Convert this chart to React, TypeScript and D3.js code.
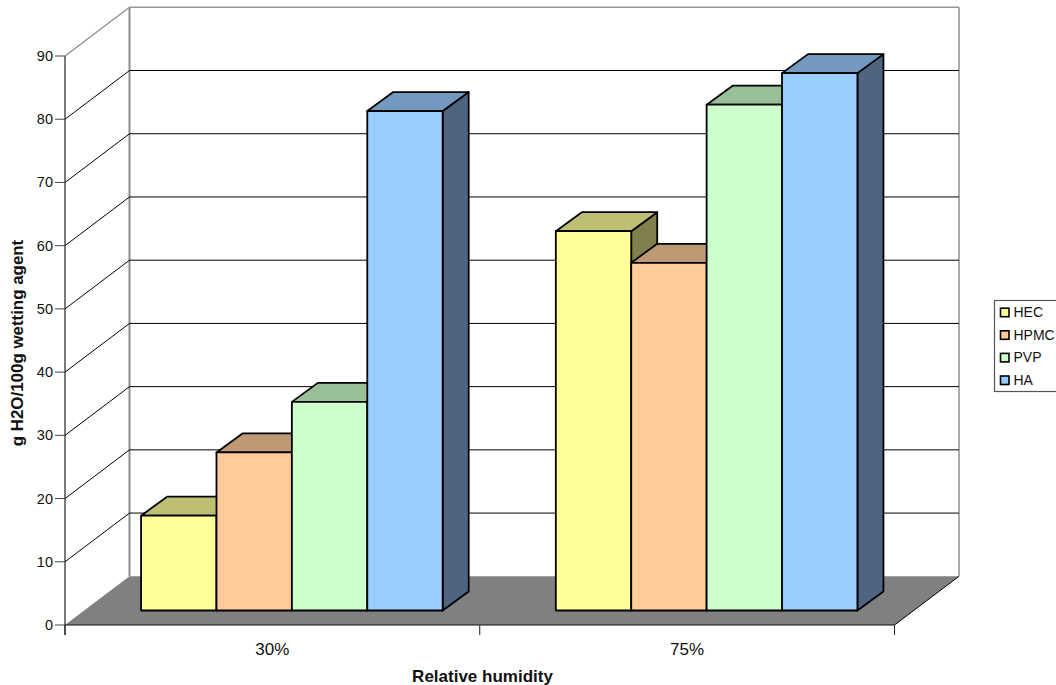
import React from "react";
import * as d3 from "d3";

const categories = ["30%", "75%"];
const seriesNames = ["HEC", "HPMC", "PVP", "HA"];
const hec = [15, 60];
const hpmc = [25, 55];
const pvp = [33, 80];
const ha = [79, 85];
const seriesValues = [hec, hpmc, pvp, ha];
const frontColors = ["#ffff99", "#ffcc99", "#ccffcc", "#99ccff"];
const topColors = ["#bfbf73", "#bf9973", "#99bf99", "#7399bf"];
const sideColors = ["#80804d", "#80664d", "#66804d", "#4f6480"];
const yTicks = d3.range(0, 100, 10);

const W = 1056, H = 685;
const x0 = 65, x1 = 894.5, yB = 625, yT = 56;
const DX = 64.5, DY = -48.7;
const barDX = 26, barDY = -19;

const y = d3.scaleLinear().domain([0, 90]).range([yB, yT]);
const xBand = d3.scaleBand<string>().domain(categories).range([x0, x1]);
const font = "'Liberation Sans', Arial, sans-serif";
const pts = (p: number[][]) => p.map((a) => a.join(",")).join(" ");

export default function App() {
  const barW = 75.4;
  const groupPad = (xBand.bandwidth() - 4 * barW) / 2;
  const barShiftY = -14.5;
  const barShiftX = 19.5;
  return (
    <svg width={W} height={H} style={{ position: "absolute", left: 0, top: 0, background: "#fff" }} fontFamily={font}>
      <polygon points={pts([[x0, yB], [x0 + DX, yB + DY], [x1 + DX, yB + DY], [x1, yB]])} fill="#808080" />
      <line x1={x0 + DX} x2={x1 + DX} y1={yT + DY} y2={yT + DY} stroke="#969696" strokeWidth={1.6} />
      <line x1={x0 + DX} x2={x0 + DX} y1={yT + DY} y2={yB + DY} stroke="#8c8c8c" strokeWidth={2} />
      <line x1={x1 + DX} x2={x1 + DX} y1={yT + DY} y2={yB + DY} stroke="#969696" strokeWidth={1.6} />
      <line x1={x0} x2={x0 + DX} y1={yT} y2={yT + DY} stroke="#8c8c8c" strokeWidth={1.2} />
      {yTicks.slice(1, -1).map((t) => (
        <g key={t} stroke="#000" strokeWidth={1} fill="none">
          <line x1={x0} x2={x0 + DX} y1={y(t)} y2={y(t) + DY} />
          <line x1={x0 + DX} x2={x1 + DX} y1={y(t) + DY} y2={y(t) + DY} />
        </g>
      ))}
      <line x1={x1} x2={x1 + DX} y1={yB} y2={yB + DY} stroke="#000" strokeWidth={1} />
      <line x1={x0} x2={x0} y1={yT} y2={yB + 10} stroke="#222" strokeWidth={1.2} />
      <line x1={x0} x2={x1} y1={yB} y2={yB} stroke="#111" strokeWidth={1.2} />
      {yTicks.map((t) => (
        <g key={t}>
          <line x1={x0 - 10} x2={x0} y1={y(t)} y2={y(t)} stroke="#444" strokeWidth={1} />
          <text x={x0 - 12} y={y(t) + 5} textAnchor="end" fontSize={14.5} fill="#111">{t}</text>
        </g>
      ))}
      {categories.map((c) => (
        <text key={c} x={xBand(c)! + xBand.bandwidth() / 2} y={655} textAnchor="middle" fontSize={17} fill="#111">{c}</text>
      ))}
      {[x0, x0 + xBand.bandwidth(), x1].map((xt, i) => (
        <line key={i} x1={xt} x2={xt} y1={yB} y2={yB + 10} stroke="#222" strokeWidth={1} />
      ))}
      {categories.map((c) =>
        seriesValues.map((vals, si) => {
          const ci = categories.indexOf(c);
          const l = xBand(c)! + groupPad + si * barW + barShiftX;
          const r = l + barW;
          const b = yB + barShiftY;
          const t = y(vals[ci]) + barShiftY;
          return (
            <g key={c + si} stroke="#000" strokeWidth={1.8} strokeLinejoin="round">
              <polygon points={pts([[r, b], [r + barDX, b + barDY], [r + barDX, t + barDY], [r, t]])} fill={sideColors[si]} />
              <polygon points={pts([[l, t], [l + barDX, t + barDY], [r + barDX, t + barDY], [r, t]])} fill={topColors[si]} />
              <rect x={l} y={t} width={barW} height={b - t} fill={frontColors[si]} />
            </g>
          );
        })
      )}
      <text x={482.5} y={681.5} textAnchor="middle" fontSize={17} fontWeight="bold" fill="#111">Relative humidity</text>
      <text transform="translate(23,343) rotate(-90)" textAnchor="middle" fontSize={16.9} fontWeight="bold" fill="#111">g H2O/100g wetting agent</text>
      <rect x={994.5} y={300.5} width={64} height={91} fill="#fff" stroke="#555" strokeWidth={1.2} />
      {seriesNames.map((n, i) => (
        <g key={n}>
          <rect x={1000.5} y={308.2 + i * 22.6} width={8.5} height={8.5} fill={frontColors[i]} stroke="#000" strokeWidth={1.6} />
          <text x={1013.5} y={317 + i * 22.6} fontSize={14} fill="#111">{n}</text>
        </g>
      ))}
    </svg>
  );
}
